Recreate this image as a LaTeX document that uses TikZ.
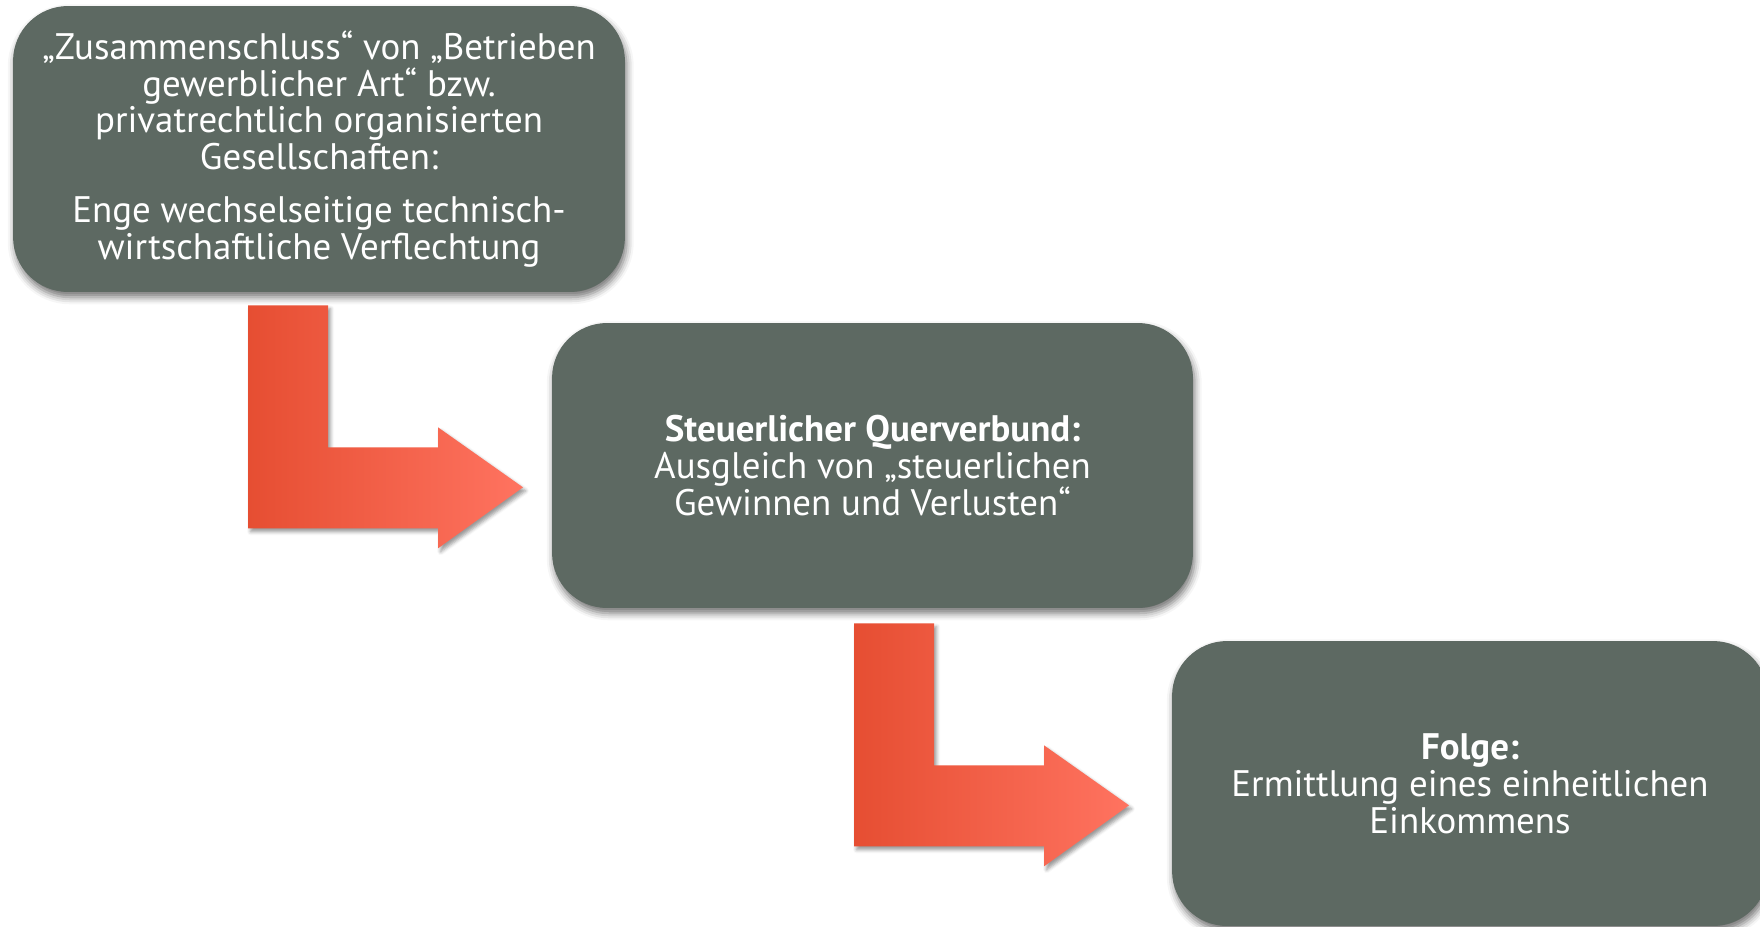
\documentclass[tikz,border=0pt]{standalone}
\usepackage{fontspec}
\setmainfont{PT Sans}
\usetikzlibrary{positioning,calc,shadows.blur}

\definecolor{boxgray}{RGB}{93,105,98}
\definecolor{arrowleft}{RGB}{230,78,50}
\definecolor{arrowright}{RGB}{255,115,96}

\tikzset{
  stepbox/.style={rounded corners=1.1cm, fill=boxgray, text=white, align=center,
    inner sep=0pt, font=\fontsize{21}{21}\selectfont,
    blur shadow={shadow xshift=1pt, shadow yshift=-3pt, shadow blur radius=4pt, shadow opacity=55}},
  bentarrow/.pic={
    \path[left color=arrowleft, right color=arrowright,
      blur shadow={shadow xshift=1.5pt, shadow yshift=-2pt, shadow blur radius=2pt, shadow opacity=40}]
      (0,0) -- (80,0) -- (80,142) -- (190,142) -- (190,122) -- (275,182)
      -- (190,243) -- (190,223) -- (0,223) -- cycle;
  }
}

\begin{document}
\begin{tikzpicture}[x=0.02cm, y=-0.02cm]
  \useasboundingbox (0,0) rectangle (1760,926);

  % first box
  \node[stepbox, minimum width=12.24cm, minimum height=5.72cm] (b1) at (319,149)
    {„Zusammenschluss“ von „Betrieben\\ gewerblicher Art“ bzw.\\ privatrechtlich organisierten\\ Gesellschaften:\\[0.32cm]
     Enge wechselseitige technisch-\\ wirtschaftliche Verflechtung};

  % second box
  \node[stepbox, minimum width=12.82cm, minimum height=5.7cm] (b2) at (872.5,465.5)
    {\textbf{Steuerlicher Querverbund:}\\ Ausgleich von „steuerlichen\\ Gewinnen und Verlusten“};

  % third box
  \node[stepbox, minimum width=11.92cm, minimum height=5.7cm] (b3) at (1470,783.5)
    {\textbf{Folge:}\\ Ermittlung eines einheitlichen\\ Einkommens};

  % bent arrows
  \pic at ($(b1.south)+(-71,13)$) {bentarrow};
  \pic at ($(b2.south)+(-18.5,15)$) {bentarrow};
\end{tikzpicture}
\end{document}
